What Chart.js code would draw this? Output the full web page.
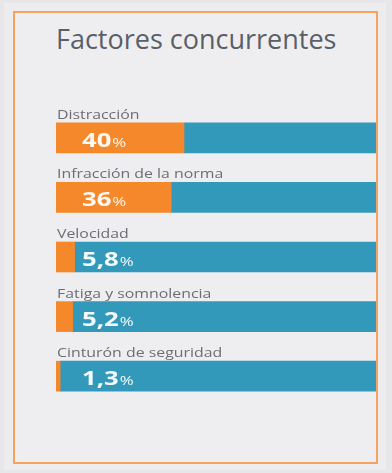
<!DOCTYPE html>
<html>
<head>
<meta charset="utf-8">
<script src="https://cdn.jsdelivr.net/npm/chart.js@4/dist/chart.umd.min.js"></script>
<style>
  html, body { margin: 0; padding: 0; background: #e7e7e9; }
  #page { position: relative; width: 392px; height: 473px; overflow: hidden; }
  #frame {
    position: absolute; left: 4px; top: 3px; width: 382px; height: 467px;
    background: #ededf0;
  }
  #box {
    position: absolute; left: 13px; top: 11px; width: 361px; height: 449px;
    border: 2px solid #f5a35e; background: #eeeef0;
  }
  #title {
    position: absolute; left: 56px; top: 20px;
    font-family: "Open Sans", sans-serif; font-size: 27px; color: #5a5f68;
  }
  #myChart { position: absolute; left: 0; top: 0; }
</style>
</head>
<body>
<div id="page">
  <div id="frame"></div>
  <div id="box"></div>
  <div id="title">Factores concurrentes</div>
  <canvas id="myChart" width="392" height="473"></canvas>
</div>
<script>
// data
const categories = ["Distracción", "Infracción de la norma", "Velocidad", "Fatiga y somnolencia", "Cinturón de seguridad"];
const shares = [40, 36, 5.8, 5.2, 1.3];
const valueLabels = ["40", "36", "5,8", "5,2", "1,3"];
const rest = shares.map(v => 100 - v);

const orange = "#f5882a";
const blue = "#3399bb";

// the source text looks stretched sideways, so draw it scaled in x
function wideText(ctx, txt, x, y, sx) {
    ctx.save();
    ctx.translate(x, y);
    ctx.scale(sx, 1);
    ctx.fillText(txt, 0, 0);
    ctx.restore();
    return ctx.measureText(txt).width * sx;
}

// labels above bars + white value text inside
const barText = {
    id: "barText",
    afterDatasetsDraw(chart) {
        const ctx = chart.ctx;
        const meta = chart.getDatasetMeta(0);
        ctx.save();
        ctx.textBaseline = "alphabetic";
        ctx.textAlign = "left";
        meta.data.forEach((bar, i) => {
            const top = bar.y - bar.height / 2;
            ctx.fillStyle = "#6b6e75";
            ctx.font = "13px 'Open Sans', sans-serif";
            wideText(ctx, categories[i], chart.chartArea.left + 1, top - 4, 1.22);

            ctx.fillStyle = "rgba(255,255,255,0.95)";
            ctx.font = "bold 19px 'Open Sans', sans-serif";
            const x = chart.chartArea.left + 26;
            const y = bar.y + 9;
            const w = wideText(ctx, valueLabels[i], x, y, 1.35);
            ctx.font = "13px 'Open Sans', sans-serif";
            wideText(ctx, "%", x + w + 1, y, 1.3);
        });
        ctx.restore();
    }
};

new Chart("myChart", {
    type: "bar",
    data: {
        labels: categories,
        datasets: [
            { data: shares, backgroundColor: orange, barThickness: 30 },
            { data: rest, backgroundColor: blue, barThickness: 30 }
        ]
    },
    options: {
        indexAxis: "y",
        responsive: false,
        animation: false,
        layout: { padding: { left: 56, right: 16, top: 108, bottom: 67 } },
        scales: {
            x: { stacked: true, min: 0, max: 100, display: false },
            y: { stacked: true, display: false }
        },
        plugins: {
            legend: { display: false },
            tooltip: { enabled: false }
        }
    },
    plugins: [barText]
});
</script>
</body>
</html>
